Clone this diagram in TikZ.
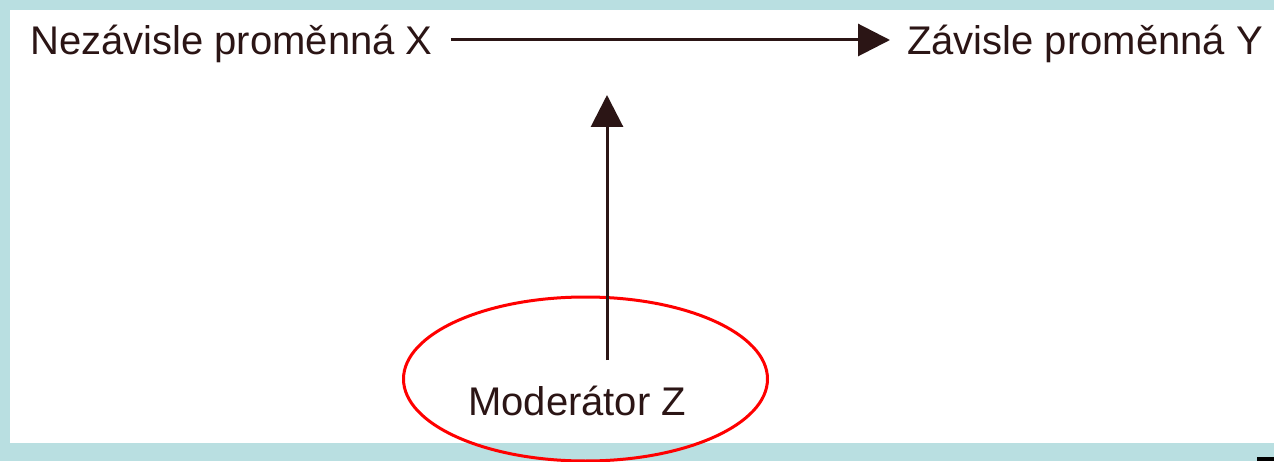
\documentclass[tikz,border=0pt]{standalone}
\usepackage{fontspec}
\setmainfont{Liberation Sans}
\usetikzlibrary{arrows.meta,shapes.geometric,calc}
\definecolor{bgblue}{HTML}{B9DFE1}
\definecolor{ink}{HTML}{2B1515}
\begin{document}
\begin{tikzpicture}[x=1pt,y=1pt,
  lbl/.style={inner sep=0pt,anchor=base west,text=ink,font=\fontsize{40}{48}\selectfont},
  conn/.style={draw=ink,line width=3pt,-{Triangle[length=32pt,width=32pt]}},
  modell/.style={ellipse,draw=red,line width=3pt,minimum width=364pt,minimum height=164pt,inner sep=0pt}]
\useasboundingbox (0,0) rectangle (1274,461);
\fill[bgblue] (0,0) rectangle (1274,461);
\fill[white] (10,18) rectangle (1274,451);
\fill[black] (1257,0) rectangle (1274,4);
\node[lbl] (X) at (30,406) {Nezávisle proměnná X};
\node[lbl] (Y) at (907,406) {Závisle proměnná Y};
\node[lbl] (Z) at (468,46) {Moderátor Z};
\node[modell] (E) at (585.5,82) {};
\coordinate (mbase) at (607,101);
\coordinate (mtip) at (607,366);
\draw[conn] ($(X.base east)+(18,15)$) -- ($(Y.base west)+(-17,15)$);
\draw[conn] (mbase) -- (mtip);
\end{tikzpicture}
\end{document}
